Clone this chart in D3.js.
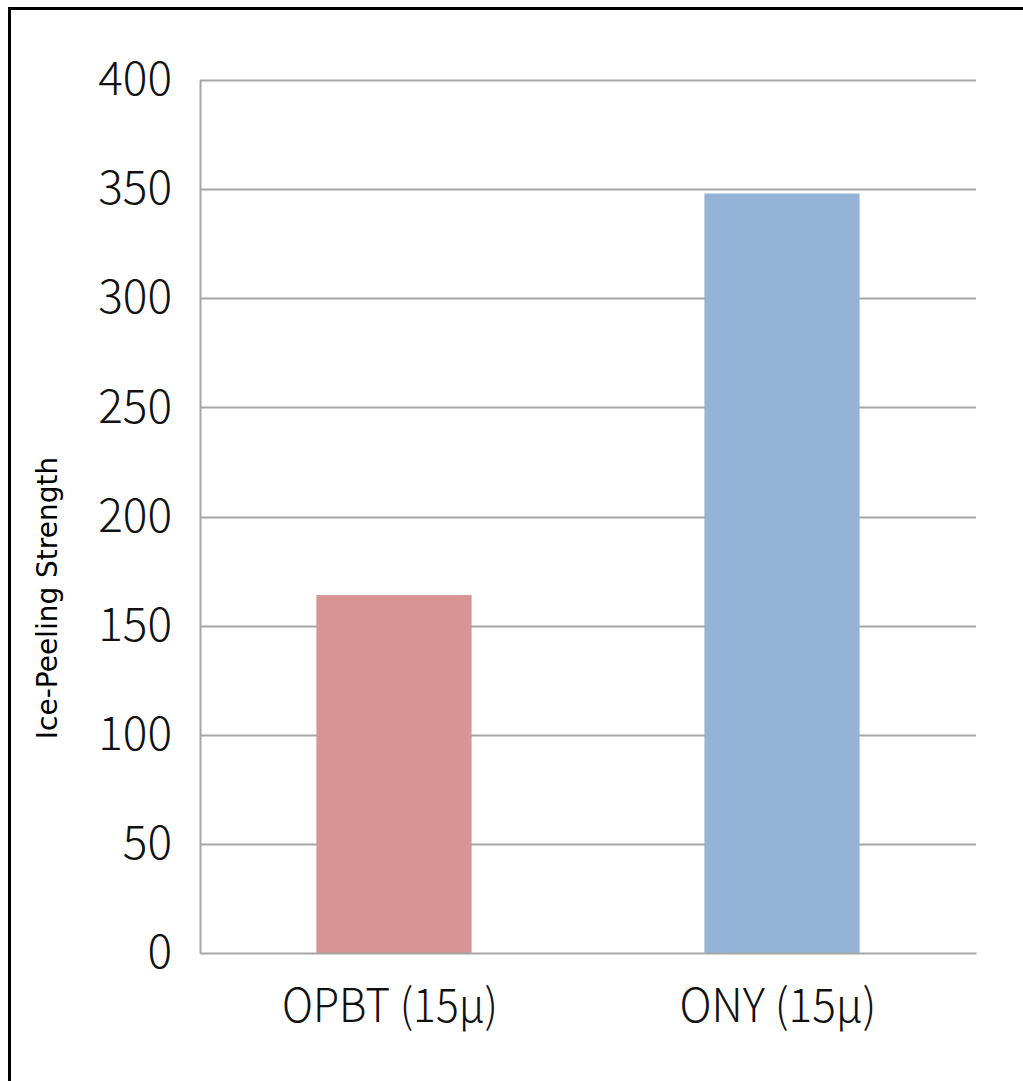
<!DOCTYPE html>
<html>
<head>
<meta charset="utf-8">
<script src="https://cdn.jsdelivr.net/npm/d3@7"></script>
<style>
  html, body { margin: 0; padding: 0; background: #fff; }
  svg { display: block; }
</style>
</head>
<body>
<svg id="chart" width="1023" height="1081"></svg>
<script>
// Film samples and their measured ice-peeling strength
const categories = ["OPBT (15\u03bc)", "ONY (15\u03bc)"];
const values = [164, 348];
const barColors = ["#d99594", "#95b3d7"];
const yTicks = [0, 50, 100, 150, 200, 250, 300, 350, 400];
const yTitle = "Ice-Peeling Strength";

const svg = d3.select("#chart");
const W = 1023, H = 1081;
const m = { left: 200, right: 47, top: 80, bottom: 128 };
const labelFont = "'Noto Sans CJK KR', 'Noto Sans', sans-serif";

// Frame around the figure (open on the right and bottom edges)
svg.append("path")
  .attr("d", `M9.5,${H} L9.5,8.5 L${W},8.5`)
  .attr("fill", "none")
  .attr("stroke", "#000")
  .attr("stroke-width", 3);

const x = d3.scaleBand()
  .domain(categories)
  .range([m.left, W - m.right])
  .paddingInner(0.6)
  .paddingOuter(0.3);

const xFull = d3.scaleBand()
  .domain(categories)
  .range([m.left, W - m.right]);

const y = d3.scaleLinear()
  .domain([0, 400])
  .range([H - m.bottom, m.top]);

// Horizontal gridlines
svg.append("g")
  .selectAll("line")
  .data(yTicks.filter(d => d > 0))
  .join("line")
  .attr("x1", m.left)
  .attr("x2", W - m.right)
  .attr("y1", d => Math.round(y(d)) + 0.5)
  .attr("y2", d => Math.round(y(d)) + 0.5)
  .attr("stroke", "#a6a6a6")
  .attr("stroke-width", 2);

// Bars
svg.append("g")
  .selectAll("rect")
  .data(values)
  .join("rect")
  .attr("x", (d, i) => x(categories[i]))
  .attr("width", x.bandwidth())
  .attr("y", d => y(d))
  .attr("height", d => y(0) - y(d))
  .attr("fill", (d, i) => barColors[i]);

// Y axis (line + tick labels)
const yAxis = svg.append("g")
  .attr("transform", `translate(${m.left},0)`)
  .call(d3.axisLeft(y).tickValues(yTicks).tickSize(0).tickPadding(28));
yAxis.select(".domain")
  .attr("stroke", "#a6a6a6")
  .attr("stroke-width", 2);
yAxis.selectAll("text")
  .attr("font-family", labelFont)
  .attr("font-size", 46)
  .attr("font-weight", 300)
  .attr("fill", "#111");

// X axis (baseline + category labels, set in a narrow condensed width)
const labelWidths = [216, 197];
const xAxis = svg.append("g")
  .attr("transform", `translate(0,${y(0)})`)
  .call(d3.axisBottom(xFull).tickSize(0));
xAxis.select(".domain")
  .attr("stroke", "#a6a6a6")
  .attr("stroke-width", 2);
xAxis.selectAll("text")
  .attr("font-family", labelFont)
  .attr("font-size", 46)
  .attr("font-weight", 300)
  .attr("fill", "#111")
  .attr("y", 69)
  .attr("dy", 0)
  .attr("dx", -4)
  .attr("textLength", (d, i) => labelWidths[i])
  .attr("lengthAdjust", "spacingAndGlyphs");

// Y axis title
svg.append("text")
  .attr("transform", "translate(57,598) rotate(-90)")
  .attr("text-anchor", "middle")
  .attr("font-family", "'DejaVu Sans', Verdana, sans-serif")
  .attr("font-size", 28)
  .attr("fill", "#000")
  .text(yTitle);
</script>
</body>
</html>
